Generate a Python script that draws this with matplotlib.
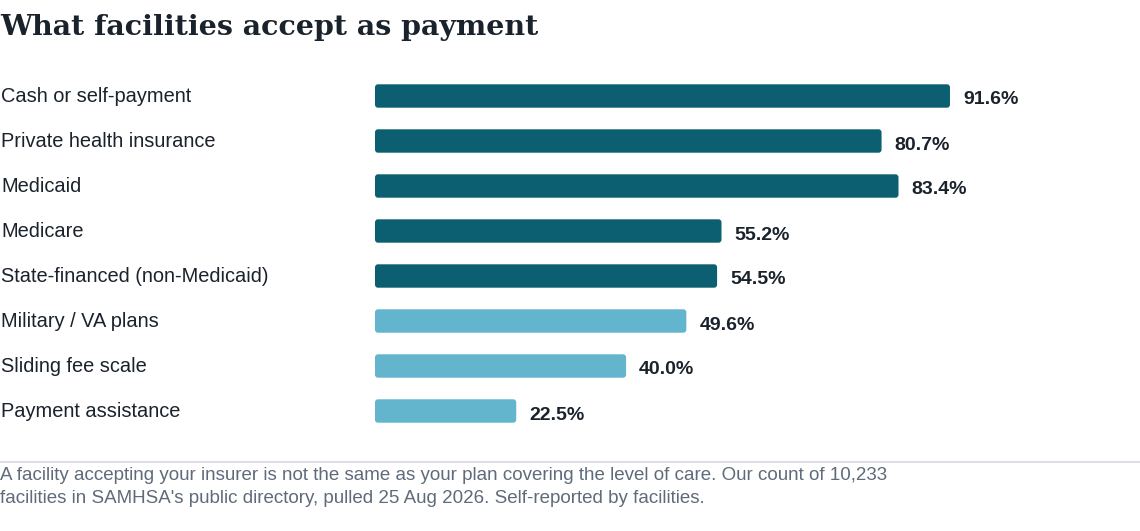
import matplotlib
matplotlib.use("Agg")
import matplotlib.pyplot as plt
from matplotlib.patches import FancyBboxPatch

categories = ["Cash or self-payment", "Private health insurance", "Medicaid", "Medicare",
              "State-financed (non-Medicaid)", "Military / VA plans", "Sliding fee scale",
              "Payment assistance"]
values = [91.6, 80.7, 83.4, 55.2, 54.5, 49.6, 40.0, 22.5]
groups = ["core", "core", "core", "core", "core", "other", "other", "other"]
value_labels = [f"{v:.1f}%" for v in values]

title = "What facilities accept as payment"
footnote = ("A facility accepting your insurer is not the same as your plan covering the level of care. Our count of 10,233\n"
            "facilities in SAMHSA's public directory, pulled 25 Aug 2026. Self-reported by facilities.")

color_map = {"core": "#0c5f70", "other": "#62b5cc"}
text_dark = "#1a222c"
W, H = 1140, 531
fig = plt.figure(figsize=(W / 100, H / 100), dpi=100)

left_px, right_px = 375, 375 + 627.7
top_px, bottom_px = 73.5, 433.5
ax = fig.add_axes([left_px / W, 1 - bottom_px / H, (right_px - left_px) / W, (bottom_px - top_px) / H])
ax.set_xlim(0, 100)
ax.set_ylim(len(categories) - 0.5, -0.5)
ax.axis("off")

ypos = list(range(len(categories)))
bars = ax.barh(ypos, values, height=0.52, color=[color_map[g] for g in groups])

# round the bar corners (~3px)
px_x = (right_px - left_px) / 100.0
px_y = (bottom_px - top_px) / len(categories)
r_x = 3.0 / px_x
aspect = (3.0 / px_y) / r_x
for b in bars:
    x0, y0 = b.get_x(), b.get_y()
    w, h = b.get_width(), b.get_height()
    fb = FancyBboxPatch((x0, y0), w, h, boxstyle=f"round,pad=0,rounding_size={r_x}",
                        mutation_aspect=aspect, facecolor=b.get_facecolor(), edgecolor="none")
    b.set_visible(False)
    ax.add_patch(fb)

for y, v, lab in zip(ypos, values, value_labels):
    ax.annotate(lab, (v, y), xytext=(13, -4), textcoords="offset pixels",
                va="center", ha="left", fontsize=14.0, fontweight="bold",
                family="Liberation Sans", color=text_dark)

for y, cat in zip(ypos, categories):
    fig.text(1 / W, 1 - (top_px + (y + 0.5) * px_y + 0.5) / H, cat, va="center", ha="left",
             fontsize=14.4, family="Liberation Sans", color=text_dark)

fig.text(0, 1 - 27.5 / H, title, va="center", ha="left", fontsize=20.5,
         fontweight="bold", family="DejaVu Serif", color=text_dark)

fig.add_artist(plt.Line2D([0, 1], [1 - 461.5 / H, 1 - 461.5 / H], transform=fig.transFigure,
                          color="#d8dce4", linewidth=1.3))
fig.text(0, 1 - 467 / H, footnote, va="top", ha="left", fontsize=13.5,
         family="Liberation Sans", color="#5f6b7a", linespacing=1.45)

fig.savefig("out.png", dpi=100, facecolor="white")
